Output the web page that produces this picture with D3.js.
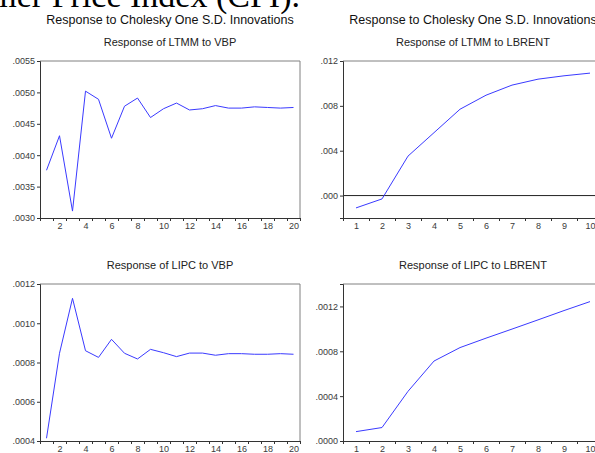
<!DOCTYPE html>
<html>
<head>
<meta charset="utf-8">
<script src="https://cdn.jsdelivr.net/npm/d3@7"></script>
<style>
  body { margin: 0; background: #fff; }
  svg { display: block; }
  .tick text { font-family: "Liberation Sans", Arial, sans-serif; font-size: 9px; fill: #3a3a3a; }
</style>
</head>
<body>
<svg id="irf" width="595" height="453"></svg>
<script>
// Impulse responses, one array per panel.
const periods20 = d3.range(1, 21);
const periods10 = d3.range(1, 11);

const ltmmToVbp = [0.00376, 0.00431, 0.00311, 0.00502, 0.00489, 0.00427, 0.00478, 0.00491, 0.00460, 0.00474,
                   0.00483, 0.00472, 0.00474, 0.00479, 0.00475, 0.00475, 0.00477, 0.00476, 0.00475, 0.00476];
const ltmmToBrent = [-0.00110, -0.00030, 0.00352, 0.00561, 0.00770, 0.00895, 0.00985, 0.01038, 0.01068, 0.01092];
const lipcToVbp = [0.000414, 0.000847, 0.001127, 0.000860, 0.000826, 0.000918, 0.000847, 0.000818, 0.000867, 0.000850,
                   0.000830, 0.000848, 0.000848, 0.000837, 0.000845, 0.000845, 0.000842, 0.000842, 0.000845, 0.000842];
const lipcToBrent = [0.0000836, 0.000120, 0.000443, 0.000713, 0.000833, 0.000917, 0.000998, 0.00108, 0.001163, 0.001243];

const yTicksLtmmVbp = [0.0030, 0.0035, 0.0040, 0.0045, 0.0050, 0.0055];
const yTicksLtmmBrent = [0.000, 0.004, 0.008, 0.012];
const yTicksLipcVbp = [0.0004, 0.0006, 0.0008, 0.0010, 0.0012];
const yTicksLipcBrent = [0.0000, 0.0004, 0.0008, 0.0012];

const xLabels20 = [2, 4, 6, 8, 10, 12, 14, 16, 18, 20];
const xLabels10 = periods10;

const mainTitle = "Response to Cholesky One S.D. Innovations";

let svg = d3.select("#irf");

// Bit of the document text above the figure, cut off by the page crop.
svg.append("text")
    .attr("x", 300)
    .attr("y", 7)
    .attr("text-anchor", "end")
    .style("font-family", "'Liberation Serif', 'Times New Roman', serif")
    .style("font-size", "34px")
    .text("Consumer Price Index (CPI).");

// Strip the leading zero the way EViews does (.0055, -.004)
function evFmt(digits) {
    return v => d3.format("." + digits + "f")(v).replace(/^(-?)0\./, "$1.");
}

let panels = [
    {left: 40,  top: 61,  width: 260, height: 157, periods: periods20, values: ltmmToVbp, yDomain: [0.0030, 0.0055],
     yTicks: yTicksLtmmVbp, digits: 4, xLabels: xLabels20, sub: "Response of LTMM to VBP", main: true, zero: false},
    {left: 343, top: 61,  width: 260, height: 157, periods: periods10, values: ltmmToBrent, yDomain: [-0.002, 0.012],
     yTicks: yTicksLtmmBrent, digits: 3, xLabels: xLabels10, sub: "Response of LTMM to LBRENT", main: true, zero: true},
    {left: 40,  top: 284, width: 260, height: 157, periods: periods20, values: lipcToVbp, yDomain: [0.0004, 0.0012],
     yTicks: yTicksLipcVbp, digits: 4, xLabels: xLabels20, sub: "Response of LIPC to VBP", main: false, zero: false},
    {left: 343, top: 284, width: 260, height: 157, periods: periods10, values: lipcToBrent, yDomain: [0.0000, 0.0014],
     yTicks: yTicksLipcBrent, digits: 4, xLabels: xLabels10, sub: "Response of LIPC to LBRENT", main: false, zero: false}
];

panels.forEach(p => {
    let n = p.periods.length;
    let x = d3.scaleLinear().domain([0.5, n + 0.5]).range([p.left, p.left + p.width]);
    let y = d3.scaleLinear().domain(p.yDomain).range([p.top + p.height, p.top]);
    let cx = p.left + p.width / 2;

    if (p.main) {
        svg.append("text")
            .attr("x", cx).attr("y", p.top - 37)
            .attr("text-anchor", "middle")
            .style("font-family", "'Liberation Sans', Arial, sans-serif")
            .style("font-size", "12.5px")
            .attr("fill", "#111")
            .text(mainTitle);
    }
    svg.append("text")
        .attr("x", cx).attr("y", p.top - 15)
        .attr("text-anchor", "middle")
        .style("font-family", "'Liberation Sans', Arial, sans-serif")
        .style("font-size", "11px")
        .attr("fill", "#222")
        .text(p.sub);

    // top and right edges of the frame are a lighter grey
    svg.append("path")
        .attr("d", `M${p.left},${p.top}H${p.left + p.width}V${p.top + p.height}`)
        .attr("fill", "none")
        .attr("stroke", "#808080");

    if (p.zero) {
        svg.append("line")
            .attr("x1", p.left).attr("x2", p.left + p.width)
            .attr("y1", y(0)).attr("y2", y(0))
            .attr("stroke", "#222");
    }

    // y axis
    let yAxis = svg.append("g")
        .attr("transform", `translate(${p.left},0)`)
        .call(d3.axisLeft(y).tickValues(p.yTicks).tickFormat(evFmt(p.digits)).tickSize(3).tickPadding(2));
    yAxis.select(".domain").attr("stroke", "#333");
    yAxis.selectAll(".tick line").attr("stroke", "#333");

    // x axis: ticks between periods, labels under the periods
    let xTickAxis = svg.append("g")
        .attr("transform", `translate(0,${p.top + p.height})`)
        .call(d3.axisBottom(x).tickValues(d3.range(0.5, n + 1, 1)).tickFormat("").tickSizeInner(3).tickSizeOuter(0));
    xTickAxis.select(".domain").attr("stroke", "#333");
    xTickAxis.selectAll(".tick line").attr("stroke", "#333");

    let xLabelAxis = svg.append("g")
        .attr("transform", `translate(0,${p.top + p.height})`)
        .call(d3.axisBottom(x).tickValues(p.xLabels).tickFormat(d3.format("d")).tickSize(0).tickPadding(5));
    xLabelAxis.select(".domain").remove();

    let line = d3.line()
        .x((d, i) => x(p.periods[i]))
        .y(d => y(d));

    svg.append("path")
        .datum(p.values)
        .attr("d", line)
        .attr("fill", "none")
        .attr("stroke", "#3a3aff")
        .attr("stroke-width", 1);
});
</script>
</body>
</html>
